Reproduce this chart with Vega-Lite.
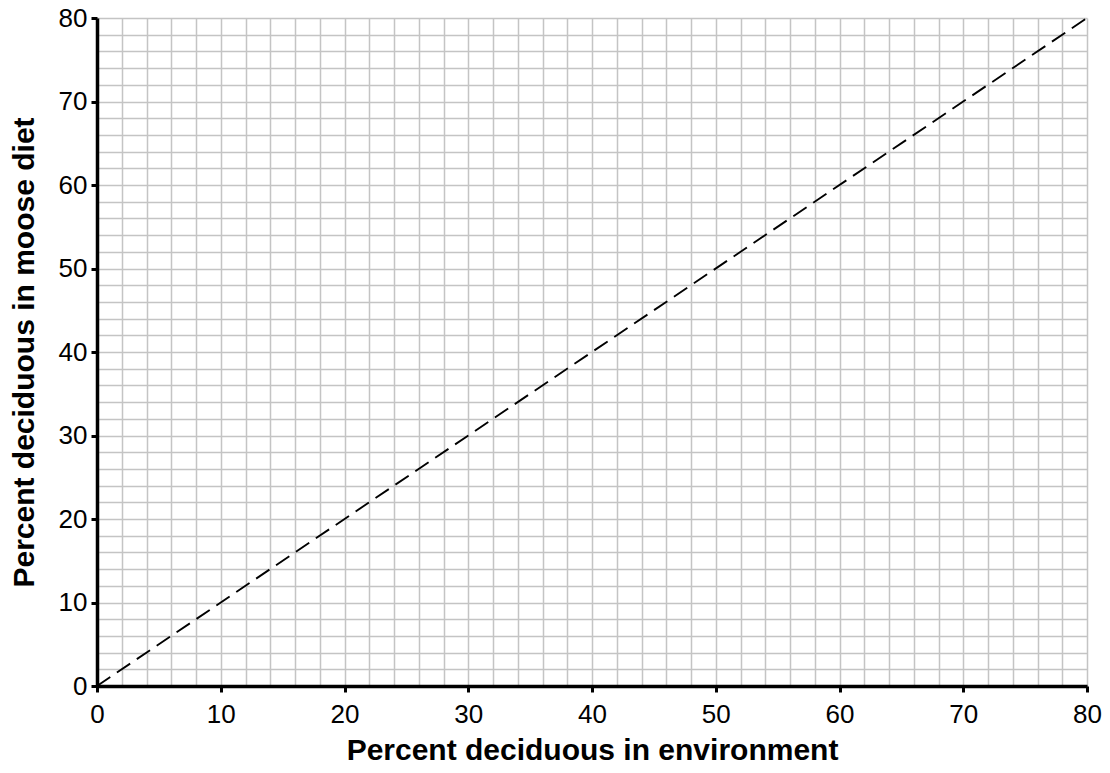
{
  "$schema": "https://vega.github.io/schema/vega-lite/v6.json",
  "width": 990,
  "height": 668,
  "autosize": {"type": "none"},
  "padding": {"left": 97, "top": 18, "right": 23, "bottom": 87},
  "background": "white",
  "config": {"view": {"stroke": null}, "font": "Liberation Sans"},
  "data": {"values": [{"env": 0, "diet": 0}, {"env": 80, "diet": 80}]},
  "resolve": {"axis": {"x": "independent", "y": "independent"}},
  "layer": [
    {
      "mark": {"type": "line", "color": "black", "strokeWidth": 1.9, "strokeDash": [16, 8]},
      "encoding": {
        "x": {"field": "env", "type": "quantitative", "scale": {"domain": [0, 80], "nice": false},
          "axis": {"orient": "bottom", "values": [0,2,4,6,8,10,12,14,16,18,20,22,24,26,28,30,32,34,36,38,40,42,44,46,48,50,52,54,56,58,60,62,64,66,68,70,72,74,76,78,80],
            "grid": true, "gridColor": "#c4c4c4", "gridWidth": 1.5, "gridOpacity": 1, "labels": false, "ticks": false, "domain": false, "title": null}},
        "y": {"field": "diet", "type": "quantitative", "scale": {"domain": [0, 80], "nice": false},
          "axis": {"orient": "left", "values": [0,2,4,6,8,10,12,14,16,18,20,22,24,26,28,30,32,34,36,38,40,42,44,46,48,50,52,54,56,58,60,62,64,66,68,70,72,74,76,78,80],
            "grid": true, "gridColor": "#c4c4c4", "gridWidth": 1.5, "gridOpacity": 1, "labels": false, "ticks": false, "domain": false, "title": null}}
      }
    },
    {
      "mark": {"type": "line", "opacity": 0},
      "encoding": {
        "x": {"field": "env", "type": "quantitative", "scale": {"domain": [0, 80], "nice": false},
          "axis": {"orient": "bottom", "values": [0,10,20,30,40,50,60,70,80], "grid": false, "zindex": 1,
            "domain": true, "domainColor": "black", "domainWidth": 3.5,
            "ticks": true, "tickColor": "black", "tickWidth": 3, "tickSize": 6,
            "labelFontSize": 26, "labelColor": "black", "labelPadding": 9, "labelFont": "Liberation Sans", "labelFlush": false, "labelOverlap": false,
            "title": "Percent deciduous in environment", "titleFontSize": 30, "titleFontWeight": "bold", "titleColor": "black", "titlePadding": 8, "titleFont": "Liberation Sans"}},
        "y": {"field": "diet", "type": "quantitative", "scale": {"domain": [0, 80], "nice": false},
          "axis": {"orient": "left", "values": [0,10,20,30,40,50,60,70,80], "grid": false, "zindex": 1,
            "domain": true, "domainColor": "black", "domainWidth": 3.5,
            "ticks": true, "tickColor": "black", "tickWidth": 3, "tickSize": 6,
            "labelFontSize": 26, "labelColor": "black", "labelPadding": 4, "labelFont": "Liberation Sans", "labelFlush": false, "labelOverlap": false,
            "title": "Percent deciduous in moose diet", "titleFontSize": 30, "titleFontWeight": "bold", "titleColor": "black", "titlePadding": 19, "titleFont": "Liberation Sans"}}
      }
    }
  ]
}
